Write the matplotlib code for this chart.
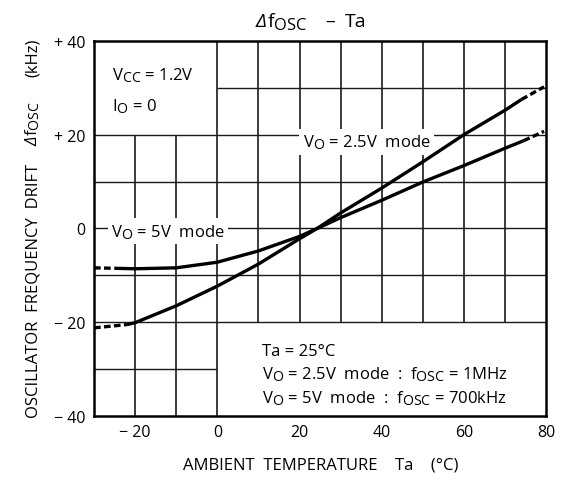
import numpy as np
import matplotlib
matplotlib.use('Agg')
import matplotlib.pyplot as plt
import matplotlib.transforms as mtransforms
import matplotlib._mathtext as mathtext_internal

# the datasheet uses nearly full-size subscripts
mathtext_internal.SHRINK_FACTOR = 0.85

plt.rcParams['font.family'] = ['Open Sans', 'DejaVu Sans']
plt.rcParams['mathtext.fontset'] = 'custom'
plt.rcParams['mathtext.rm'] = 'Open Sans'
plt.rcParams['mathtext.it'] = 'Open Sans:italic'
plt.rcParams['mathtext.default'] = 'regular'

# curve data (Ta in degC, drift in kHz)
steep_x = [-22, -20, -15, -10, -5, 0, 10, 20, 24.3, 30, 40, 50, 60, 70, 74]
steep_y = [-20.5, -20.1, -18.3, -16.5, -14.4, -12.3, -7.6, -2.2, 0, 3.3, 8.6, 14.2, 20.0, 25.2, 27.5]
steep_dash_left_x = [-30, -22]
steep_dash_left_y = [-21.2, -20.5]
steep_dash_right_x = [74, 79.5]
steep_dash_right_y = [27.5, 30.2]

flat_x = [-25, -20, -10, 0, 10, 20, 24.3, 30, 40, 50, 60, 70, 74.5]
flat_y = [-8.5, -8.6, -8.4, -7.2, -4.8, -1.7, 0, 2.3, 6.0, 9.9, 13.4, 17.1, 18.7]
flat_dash_left_x = [-30, -25]
flat_dash_left_y = [-8.4, -8.5]
flat_dash_right_x = [74.5, 79.5]
flat_dash_right_y = [18.7, 20.7]

x_ticks = [-20, 0, 20, 40, 60, 80]
x_ticklabels = ['\u2212 20', '0', '20', '40', '60', '80']
y_ticks = [-40, -20, 0, 20, 40]
y_ticklabels = ['\u2212 40', '\u2212 20', '0', '+ 20', '+ 40']


def chain(fig, x0, y0, pieces, fontsize, rotation=0):
    """Write text pieces one after another, starting at pixel (x0, y0) on the baseline."""
    renderer = fig.canvas.get_renderer()
    px, py = x0, y0
    for text, gap, style in pieces:
        if rotation:
            py += gap
        else:
            px += gap
        t = fig.text(px, py, text, transform=mtransforms.IdentityTransform(),
                     fontsize=fontsize, style=style, rotation=rotation,
                     rotation_mode='anchor', ha='left', va='baseline')
        bb = t.get_window_extent(renderer)
        if rotation:
            py += bb.height
        else:
            px += bb.width


fig = plt.figure(figsize=(5.63, 4.81), dpi=100)
H = 481
ax = fig.add_axes([0.167, 0.133, 0.803, 0.780])
ax.set_xlim(-30, 80)
ax.set_ylim(-40, 40)

# broken grid (blank boxes for the notes)
gc = '#1a1a1a'
ax.vlines([-20, -10], -40, 20, color=gc, lw=1.2, zorder=1)
ax.vlines([0], -40, 40, color=gc, lw=1.2, zorder=1)
ax.vlines(np.arange(10, 80, 10), -20, 40, color=gc, lw=1.2, zorder=1)
ax.hlines([30], 0, 80, color=gc, lw=1.0, zorder=1)
ax.hlines([20, 10, 0, -10, -20], -30, 80, color=gc, lw=1.0, zorder=1)
ax.hlines([-30], -30, 0, color=gc, lw=1.0, zorder=1)

lw = 2.4
ax.plot(steep_x, steep_y, color='black', lw=lw, zorder=3, solid_capstyle='butt')
ax.plot(flat_x, flat_y, color='black', lw=lw, zorder=3, solid_capstyle='butt')
for dx, dy in [(steep_dash_left_x, steep_dash_left_y), (steep_dash_right_x, steep_dash_right_y),
               (flat_dash_left_x, flat_dash_left_y), (flat_dash_right_x, flat_dash_right_y)]:
    ax.plot(dx, dy, color='black', lw=lw, ls=(0, (2.0, 1.0)), zorder=3)

for s in ax.spines.values():
    s.set_linewidth(1.8)
    s.set_zorder(5)

ax.set_xticks(x_ticks)
ax.set_xticklabels(x_ticklabels, fontsize=11.5)
ax.set_yticks(y_ticks)
ax.set_yticklabels(y_ticklabels, fontsize=11.5)
ax.tick_params(length=0, pad=6)

fs = 12
box = dict(facecolor='white', edgecolor='none', pad=2.5)
ax.text(-25.8, -0.6, r'V$_{O}$ = 5V  mode', fontsize=fs, va='center', ha='left', bbox=box, zorder=2)
ax.text(20.8, 18.4, r'V$_{O}$ = 2.5V  mode', fontsize=fs, va='center', ha='left', bbox=box, zorder=2)

ax.text(-25.6, 32.7, r'V$_{CC}$ = 1.2V', fontsize=fs, va='center', ha='left')
ax.text(-25.6, 26.1, r'I$_{O}$ = 0', fontsize=fs, va='center', ha='left')

ax.text(10.9, -26.1, 'Ta = 25\u00b0C', fontsize=fs, va='center', ha='left')
ax.text(10.9, -31.0, r'V$_{O}$ = 2.5V  mode  :  f$_{OSC}$ = 1MHz', fontsize=fs, va='center', ha='left')
ax.text(10.9, -36.1, r'V$_{O}$ = 5V  mode  :  f$_{OSC}$ = 700kHz', fontsize=fs, va='center', ha='left')

# title and axis labels, with a slanted delta as in the datasheet
chain(fig, 256, H - 27, [('\u0394', 0, 'italic'), (r'f$_{OSC}$', 0, 'normal'),
                         ('\u2013', 18, 'normal'), ('Ta', 10, 'normal')], fontsize=14)
chain(fig, 37, H - 418, [('OSCILLATOR  FREQUENCY  DRIFT', 0, 'normal'), ('\u0394', 18, 'italic'),
                         (r'f$_{OSC}$', 0, 'normal'), ('(kHz)', 24, 'normal')],
      fontsize=12, rotation=90)
fig.text(0.570, 0.033, 'AMBIENT  TEMPERATURE    Ta    (\u00b0C)', fontsize=12, ha='center', va='center')

fig.savefig('out.png', dpi=100)
